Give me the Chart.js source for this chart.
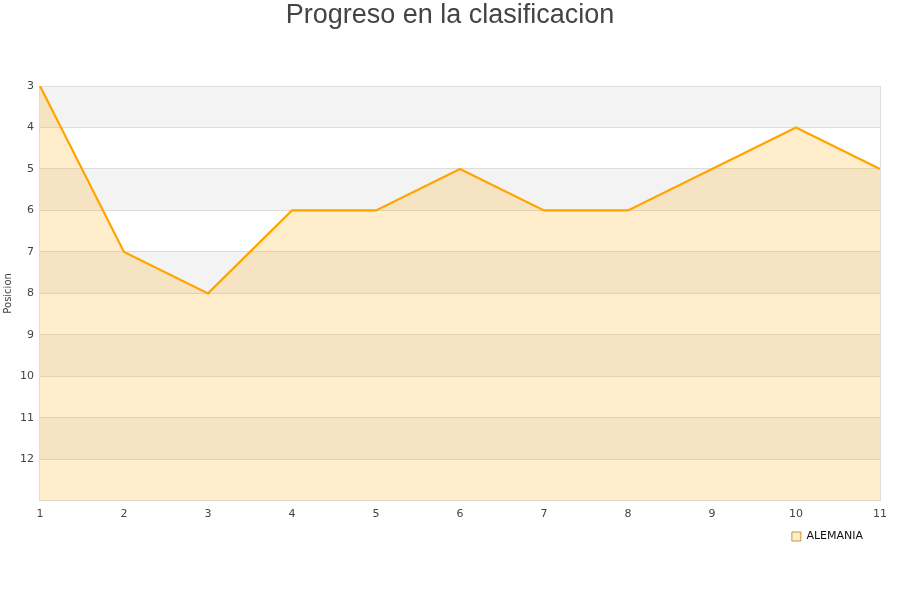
<!DOCTYPE html>
<html>
<head>
<meta charset="utf-8">
<script src="https://cdn.jsdelivr.net/npm/chart.js@4"></script>
<style>
  html, body { margin: 0; padding: 0; background: #fff; }
  #wrap { width: 900px; height: 600px; }
</style>
</head>
<body>
<div id="wrap"><canvas id="chart"></canvas></div>
<script>
// ── Data ───────────────────────────────────────────────────
const jornadas  = ['1', '2', '3', '4', '5', '6', '7', '8', '9', '10', '11'];
const alemania  = [3, 7, 8, 6, 6, 5, 6, 6, 5, 4, 5];
const posMin    = 3;
const posMax    = 13;
const titulo    = 'Progreso en la clasificacion';

// ── Alternating bands, right border, centred title ─────────
const bands = {
    id: 'bands',
    beforeDraw(chart) {
        const { ctx, chartArea: a, scales: { y } } = chart;
        // legend sits a bit in from the right edge in the original
        if (chart.legend && !chart.legend._shifted) {
            chart.legend.right -= 14;
            chart.legend._shifted = true;
        }
        ctx.save();
        for (let v = posMin; v < posMax; v += 2) {
            const y1 = y.getPixelForValue(v);
            const y2 = y.getPixelForValue(v + 1);
            ctx.fillStyle = '#f3f3f3';
            ctx.fillRect(a.left, Math.min(y1, y2), a.right - a.left, Math.abs(y2 - y1));
        }
        ctx.restore();
    },
    afterDraw(chart) {
        const { ctx, chartArea: a, width } = chart;
        ctx.save();
        ctx.strokeStyle = '#dddddd';
        ctx.lineWidth = 1;
        ctx.beginPath();
        ctx.moveTo(a.right + 0.5, a.top);
        ctx.lineTo(a.right + 0.5, a.bottom);
        ctx.stroke();

        ctx.fillStyle = '#444';
        ctx.font = '27px "Liberation Sans"';
        ctx.textAlign = 'center';
        ctx.textBaseline = 'middle';
        ctx.fillText(titulo, width / 2, 16);
        ctx.restore();
    }
};

new Chart(document.getElementById('chart'), {
    type: 'line',
    data: {
        labels: jornadas,
        datasets: [{
            label: 'ALEMANIA',
            data: alemania,
            borderColor: '#ffa500',
            backgroundColor: 'rgba(255,165,0,0.2)',
            borderWidth: 2.2,
            pointRadius: 0,
            tension: 0,
            fill: { value: posMax }
        }]
    },
    options: {
        responsive: true,
        maintainAspectRatio: false,
        animation: false,
        layout: { padding: { left: 2, right: 20, bottom: 48, top: 86 } },
        scales: {
            x: {
                offset: false,
                grid: { display: false, drawTicks: false },
                border: { color: '#dddddd' },
                ticks: { color: '#444', font: { family: 'DejaVu Sans', size: 11 }, maxRotation: 0, padding: 7 }
            },
            y: {
                reverse: true,
                min: posMin,
                max: posMax,
                grid: { color: '#dddddd', drawTicks: false },
                border: { color: '#dddddd' },
                ticks: {
                    stepSize: 1,
                    color: '#444',
                    padding: 6,
                    font: { family: 'DejaVu Sans', size: 11 },
                    callback: v => (v === posMax ? '' : v)
                },
                title: {
                    display: true,
                    text: 'Posicion',
                    color: '#444',
                    font: { family: 'DejaVu Sans', size: 10 },
                    padding: 0
                }
            }
        },
        plugins: {
            title: { display: false },
            legend: {
                position: 'bottom',
                align: 'end',
                labels: {
                    boxWidth: 9,
                    boxHeight: 9,
                    color: '#111',
                    font: { family: 'DejaVu Sans', size: 11 },
                    padding: 3,
                    generateLabels: chart =>
                        Chart.defaults.plugins.legend.labels.generateLabels(chart)
                            .map(l => ({ ...l, lineWidth: 1, strokeStyle: '#c8963c' }))
                }
            },
            tooltip: { enabled: false }
        }
    },
    plugins: [bands]
});
</script>
</body>
</html>
